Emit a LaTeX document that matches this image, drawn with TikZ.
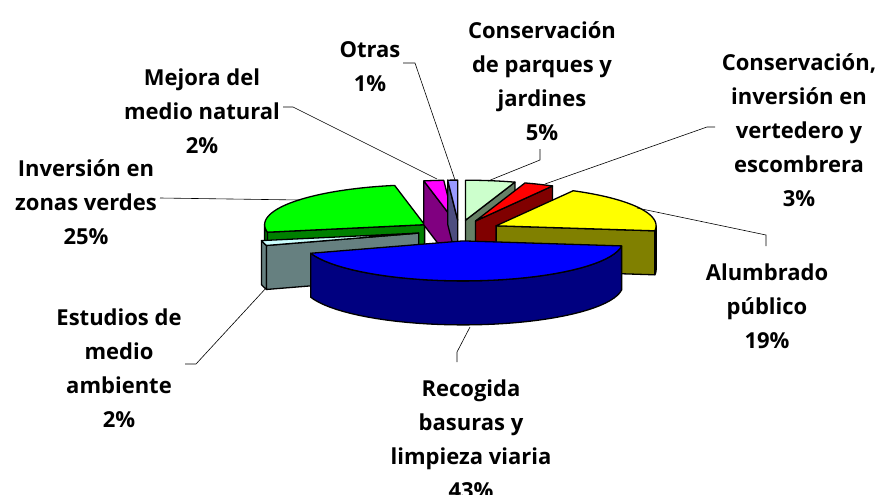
\documentclass[tikz,border=0pt]{standalone}
\usepackage{fontspec}
\setmainfont{Open Sans}
\definecolor{pqTop}{HTML}{CCFFCC}\definecolor{pqSide}{HTML}{668066}
\definecolor{rdTop}{HTML}{FF0000}\definecolor{rdSide}{HTML}{800000}
\definecolor{ylTop}{HTML}{FFFF00}\definecolor{ylSide}{HTML}{808000}
\definecolor{blTop}{HTML}{0000FF}\definecolor{blSide}{HTML}{000080}
\definecolor{gyTop}{HTML}{CCFFFF}\definecolor{gySide}{HTML}{668080}
\definecolor{grTop}{HTML}{00FF00}\definecolor{grSide}{HTML}{008000}
\definecolor{mgTop}{HTML}{FF00FF}\definecolor{mgSide}{HTML}{800080}
\definecolor{otTop}{HTML}{9999FF}\definecolor{otSide}{HTML}{4D4D80}
\newcommand\RA{160}
\newcommand\RB{40}
\newcommand\HH{44}
\newcommand{\slicetop}[5]{\filldraw[slice,fill=#5] (#1,#2) -- plot[domain=#3:#4,samples=40] ({#1+\RA*cos(\x)},{#2-\RB*sin(\x)}) -- cycle;}
\newcommand{\slicerim}[5]{\filldraw[slice,fill=#5] plot[domain=#3:#4,samples=40] ({#1+\RA*cos(\x)},{#2-\RB*sin(\x)}) -- plot[domain=#4:#3,samples=40] ({#1+\RA*cos(\x)},{#2+\HH-\RB*sin(\x)}) -- cycle;}
\newcommand{\sliceside}[4]{\filldraw[slice,fill=#4] (#1,#2) -- ({#1+\RA*cos(#3)},{#2-\RB*sin(#3)}) -- ({#1+\RA*cos(#3)},{#2+\HH-\RB*sin(#3)}) -- (#1,{#2+\HH}) -- cycle;}
\tikzset{
  slice/.style={draw=black,line width=1.3pt,line join=round},
  lbl/.style={font=\fontsize{22}{34}\selectfont\bfseries,align=center,inner sep=0pt},
  leader/.style={draw=black,line width=0.6pt}
}
\begin{document}
\begin{tikzpicture}[x=1pt,y=-1pt]
\useasboundingbox (0,0) rectangle (883,495);
% ---- slices (back to front)
% zonas verdes
\slicerim{424.6}{224.7}{180}{190.8}{grSide}
\sliceside{424.6}{224.7}{190.8}{grSide}
\slicetop{424.6}{224.7}{100.8}{190.8}{grTop}
% mejora medio natural
\sliceside{453.8}{220.2}{100.8}{mgSide}
\slicetop{453.8}{220.2}{93.6}{100.8}{mgTop}
% otras
\sliceside{457.7}{220.1}{93.6}{otSide}
\slicetop{457.7}{220.1}{90}{93.6}{otTop}
% parques y jardines
\sliceside{465.5}{220.2}{72}{pqSide}
\slicetop{465.5}{220.2}{72}{90}{pqTop}
% vertedero
\sliceside{475.5}{221.0}{61.2}{rdSide}
\slicetop{475.5}{221.0}{61.2}{72}{rdTop}
% alumbrado
\slicerim{496.1}{225.8}{-7.2}{0}{ylSide}
\sliceside{496.1}{225.8}{-7.2}{ylSide}
\slicetop{496.1}{225.8}{-7.2}{61.2}{ylTop}
% estudios
\slicerim{418.7}{233.1}{190.8}{198}{gySide}
\sliceside{418.7}{233.1}{198}{gySide}
\slicetop{418.7}{233.1}{190.8}{198}{gyTop}
% recogida
\slicerim{462.9}{240.9}{198}{352.8}{blSide}
\slicetop{462.9}{240.9}{198}{352.8}{blTop}
% ---- labels
\node[lbl] (lOtras) at (370,67) {Otras\\1\%};
\node[lbl] (lParques) at (542,81) {Conservación\\de parques y\\jardines\\5\%};
\node[lbl] (lVert) at (799,130) {Conservación,\\inversión en\\vertedero y\\escombrera\\3\%};
\node[lbl] (lAlum) at (767,306) {Alumbrado\\público\\19\%};
\node[lbl] (lRec) at (471,439) {Recogida\\basuras y\\limpieza viaria\\43\%};
\node[lbl] (lEst) at (119,368) {Estudios de\\medio\\ambiente\\2\%};
\node[lbl] (lMej) at (202,111) {Mejora del\\medio natural\\2\%};
\node[lbl] (lInv) at (86,202) {Inversión en\\zonas verdes\\25\%};
% ---- leader points
\coordinate (oA) at (403,63);  \coordinate (oB) at (415,63);  \coordinate (oC) at (455,180);
\coordinate (pA) at (540,149); \coordinate (pB) at (540,160); \coordinate (pC) at (488,181);
\coordinate (vA) at (715,127); \coordinate (vB) at (707,127); \coordinate (vC) at (545,184);
\coordinate (aA) at (766,246); \coordinate (aB) at (766,235); \coordinate (aC) at (637,208);
\coordinate (rA) at (457,362); \coordinate (rB) at (457,352); \coordinate (rC) at (470,327);
\coordinate (eA) at (185,364); \coordinate (eB) at (196,364); \coordinate (eC) at (267,287);
\coordinate (mA) at (283,107); \coordinate (mB) at (293,107); \coordinate (mC) at (437,179);
\coordinate (iA) at (160,198); \coordinate (iC) at (300,200);
\draw[leader] (oA) -- (oB) -- (oC);
\draw[leader] (pA) -- (pB) -- (pC);
\draw[leader] (vA) -- (vB) -- (vC);
\draw[leader] (aA) -- (aB) -- (aC);
\draw[leader] (rA) -- (rB) -- (rC);
\draw[leader] (eA) -- (eB) -- (eC);
\draw[leader] (mA) -- (mB) -- (mC);
\draw[leader] (iA) -- (iC);
\end{tikzpicture}
\end{document}
